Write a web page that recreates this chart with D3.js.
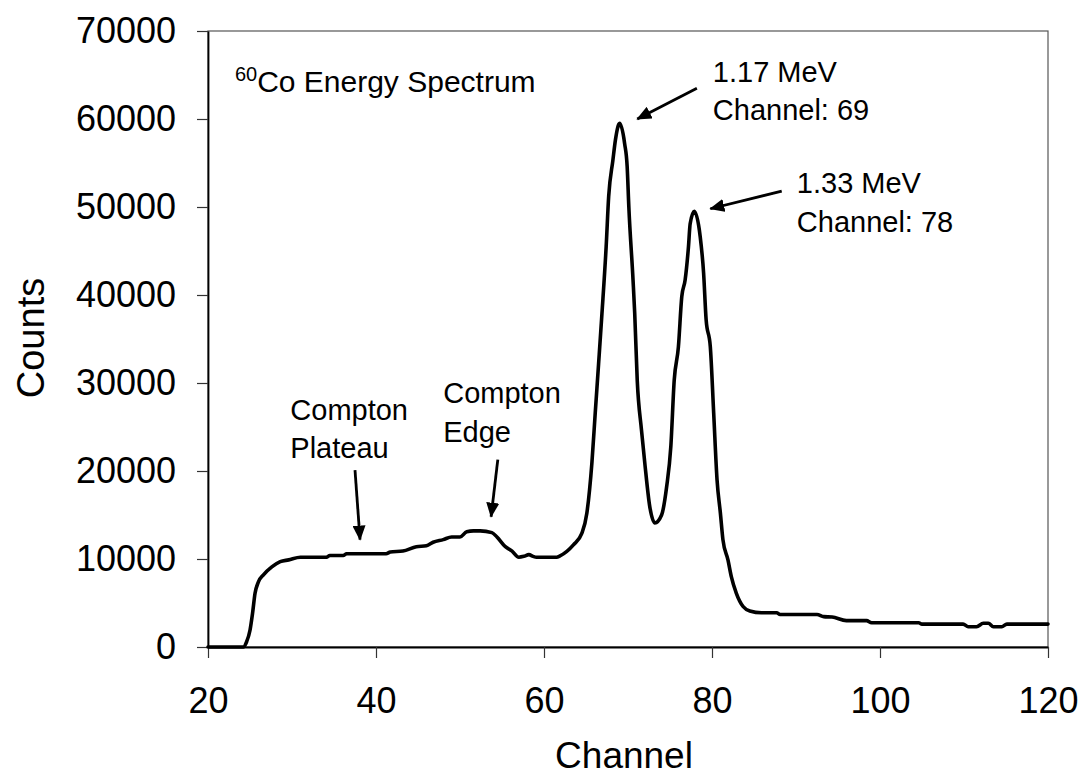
<!DOCTYPE html>
<html>
<head>
<meta charset="utf-8">
<script src="https://cdn.jsdelivr.net/npm/d3@7"></script>
<style>
  html, body { margin: 0; padding: 0; background: #ffffff; }
  svg { display: block; font-family: "Liberation Sans", Arial, sans-serif; }
</style>
</head>
<body>
<svg id="chart" width="1084" height="777"></svg>
<script>
// 60Co gamma spectrum: channel number vs. counts
const channels = [
  20, 24.2, 24.6, 25.0, 25.3, 25.6, 26.0, 26.6, 27.6, 28.6, 29.6, 31.0, 34.1, 34.5,
  36.1, 36.5, 41.2, 41.7, 43.2, 44.8, 46.0, 46.8, 48.0, 49.0, 50.0, 50.8, 51.6, 52.4,
  53.8, 54.4, 55.4, 56.2, 57.0, 57.6, 58.2, 58.7, 59.1, 61.5, 61.9, 63.5, 64.5, 65.1,
  65.7, 66.1, 66.5, 66.9, 67.4, 67.7, 68.2, 68.5, 69.0, 69.6, 69.9, 70.1, 70.6, 70.8,
  71.1, 71.6, 72.0, 72.6, 73.2, 74.0, 74.6, 75.1, 75.5, 76.0, 76.4, 76.8, 77.2, 77.4,
  77.9, 78.6, 79.0, 79.3, 79.8, 80.2, 80.6, 81.0, 81.3, 81.9, 82.3, 82.9, 83.7, 84.5,
  85.9, 87.7, 88.1, 92.5, 93.3, 94.3, 96.0, 98.4, 99.0, 104.6, 105.0, 109.9, 110.5,
  111.5, 112.3, 112.9, 113.5, 114.5, 115.1, 120
];
const counts = [
  0, 0, 600, 1900, 3800, 6100, 7400, 8200, 9100, 9700, 9900, 10200, 10200, 10400,
  10400, 10600, 10600, 10800, 10900, 11400, 11500, 11900, 12200, 12500, 12500, 13100, 13200, 13200,
  13000, 12500, 11400, 10900, 10200, 10300, 10500, 10300, 10200, 10200, 10350, 11600, 12900, 15200,
  20900, 26600, 32200, 37900, 45500, 51200, 55300, 57600, 59500, 57200, 54600, 50000, 41700, 37900,
  30300, 24700, 20900, 15900, 14100, 15000, 18200, 22800, 30300, 34100, 39800, 41700, 45500, 48100,
  49500, 46600, 42500, 37200, 34100, 26600, 19000, 15200, 12200, 9900, 8000, 6100, 4600, 4100,
  3900, 3900, 3700, 3700, 3450, 3400, 3000, 3000, 2750, 2750, 2600, 2600, 2300,
  2300, 2700, 2700, 2300, 2300, 2600, 2600
];

const xTicks = [20, 40, 60, 80, 100, 120];
const yTicks = [0, 10000, 20000, 30000, 40000, 50000, 60000, 70000];

// Text notes: [channel, counts] anchors for each line of text
const noteLines = [
  { text: "Compton", at: [29.8, 25800] },
  { text: "Plateau", at: [29.8, 21500] },
  { text: "Compton", at: [48.0, 27700] },
  { text: "Edge",    at: [48.0, 23300] },
  { text: "1.17 MeV",    at: [80.1, 64200] },
  { text: "Channel: 69", at: [80.1, 59900] },
  { text: "1.33 MeV",    at: [90.1, 51600] },
  { text: "Channel: 78", at: [90.1, 47200] }
];
// Arrows: from tail [channel, counts] to head [channel, counts]
const arrows = [
  { from: [37.5, 20100], to: [38.1, 12200] },
  { from: [54.5, 21300], to: [53.7, 14800] },
  { from: [78.2, 63500], to: [71.1, 60000] },
  { from: [88.3, 51800], to: [79.8, 49800] }
];

const margin = { top: 31, right: 36, bottom: 130, left: 208 };
const W = 1084, H = 777;
const iw = W - margin.left - margin.right;
const ih = H - margin.top - margin.bottom;

const svg = d3.select("#chart");
const defs = svg.append("defs");
defs.append("marker")
  .attr("id", "head")
  .attr("markerUnits", "userSpaceOnUse")
  .attr("viewBox", "0 0 15 13")
  .attr("refX", 14).attr("refY", 6.5)
  .attr("markerWidth", 15).attr("markerHeight", 13)
  .attr("orient", "auto")
  .append("path")
  .attr("d", "M0,0 L15,6.5 L0,13 Z")
  .attr("fill", "#000");

const g = svg.append("g").attr("transform", `translate(${margin.left},${margin.top})`);

const x = d3.scaleLinear().domain([20, 120]).range([0, iw]);
const y = d3.scaleLinear().domain([0, 70000]).range([ih, 0]);

// plot area frame
g.append("rect")
  .attr("x", 0).attr("y", 0).attr("width", iw).attr("height", ih)
  .attr("fill", "none").attr("stroke", "#555").attr("stroke-width", 1.2);

// axes
const yAxis = g.append("g")
  .call(d3.axisLeft(y).tickValues(yTicks).tickSize(11).tickSizeOuter(0).tickPadding(21).tickFormat(d3.format("d")));
const xAxis = g.append("g")
  .attr("transform", `translate(0,${ih})`)
  .call(d3.axisBottom(x).tickValues(xTicks).tickSize(11).tickSizeOuter(0).tickPadding(29).tickFormat(d3.format("d")));

[yAxis, xAxis].forEach(a => {
  a.select(".domain").attr("stroke", "#000").attr("stroke-width", 1.8);
  a.selectAll(".tick line").attr("stroke", "#333").attr("stroke-width", 1.2);
  a.selectAll(".tick text")
    .attr("fill", "#000")
    .style("font-family", "'Liberation Sans', Arial, sans-serif")
    .style("font-size", "36px");
});

// axis titles
svg.append("text")
  .attr("x", margin.left + iw / 2 - 4).attr("y", 768)
  .attr("text-anchor", "middle")
  .style("font-size", "37px")
  .text("Channel");
svg.append("text")
  .attr("transform", `translate(44,${margin.top + ih / 2 - 1}) rotate(-90)`)
  .attr("text-anchor", "middle")
  .style("font-size", "38px")
  .text("Counts");

// spectrum line
const pts = channels.map((c, i) => [c, counts[i]]);
const line = d3.line().x(d => x(d[0])).y(d => y(d[1])).curve(d3.curveMonotoneX);
g.append("path")
  .datum(pts)
  .attr("d", line)
  .attr("fill", "none")
  .attr("stroke", "#000")
  .attr("stroke-width", 3.6)
  .attr("stroke-linejoin", "round")
  .attr("stroke-linecap", "round");

// chart label with superscript mass number
const title = g.append("text")
  .attr("x", x(23.2)).attr("y", y(63100))
  .style("font-size", "30px");
title.append("tspan").attr("baseline-shift", "11").style("font-size", "20px").text("60");
title.append("tspan").attr("baseline-shift", "0").text("Co Energy Spectrum");

// notes
g.selectAll("text.note")
  .data(noteLines)
  .join("text")
  .attr("class", "note")
  .attr("x", d => x(d.at[0]))
  .attr("y", d => y(d.at[1]))
  .style("font-size", "29px")
  .text(d => d.text);

g.selectAll("line.arrow")
  .data(arrows)
  .join("line")
  .attr("class", "arrow")
  .attr("x1", d => x(d.from[0])).attr("y1", d => y(d.from[1]))
  .attr("x2", d => x(d.to[0])).attr("y2", d => y(d.to[1]))
  .attr("stroke", "#000")
  .attr("stroke-width", 2.8)
  .attr("marker-end", "url(#head)");
</script>
</body>
</html>
